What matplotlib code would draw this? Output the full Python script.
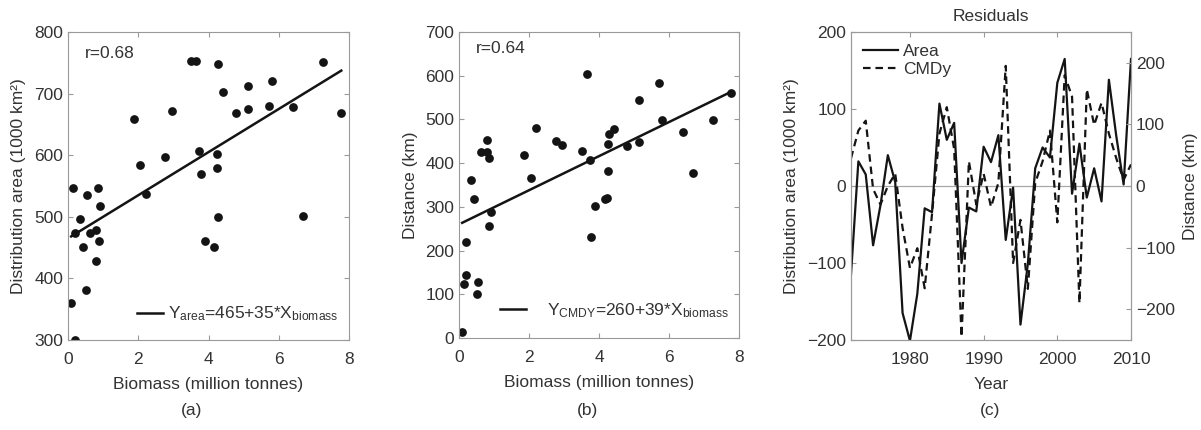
import matplotlib
matplotlib.use("Agg")
import matplotlib.pyplot as plt
import numpy as np

# Biomass (million tonnes), one value per year, sorted by biomass
biomass = [0.09, 0.14, 0.19, 0.21, 0.33, 0.44, 0.52, 0.55, 0.63, 0.79,
           0.81, 0.86, 0.87, 0.91, 1.87, 2.05, 2.21, 2.77, 2.95, 3.50,
           3.65, 3.74, 3.78, 3.89, 4.17, 4.24, 4.25, 4.27, 4.28, 4.42,
           4.79, 5.13, 5.13, 5.71, 5.81, 6.40, 6.69, 7.27, 7.78]
# Distribution area (1000 km2)
area = [360, 547, 473, 300, 496, 451, 381, 535, 473, 478,
        429, 547, 460, 517, 658, 584, 537, 597, 671, 753,
        753, 607, 570, 461, 451, 602, 580, 500, 748, 703,
        669, 713, 675, 680, 720, 679, 502, 752, 669]
# Distance (km)
distance = [13, 124, 220, 144, 362, 319, 101, 128, 425, 425,
            454, 256, 411, 289, 418, 365, 481, 451, 441, 428,
            603, 408, 230, 302, 319, 320, 444, 381, 467, 478,
            440, 544, 449, 584, 498, 471, 378, 498, 561]

# Regression fits (intercept, slope)
fit_area = (465, 35)
fit_dist = (260, 39)
r_area = "r=0.68"
r_dist = "r=0.64"

# Residual time series
years = list(range(1972, 2011))
area_resid = [-115, 32, 15, -77, -25, 40, 5, -165, -201, -140,
              -29, -34, 107, 60, 82, -100, -28, -33, 51, 31,
              66, -70, -2, -180, -101, 23, 50, 37, 134, 165,
              -10, 55, -15, 23, -20, 138, 65, 2, 165]
cmdy_resid = [45, 90, 106, -5, -30, 0, 20, -68, -133, -101,
              -166, -45, 85, 128, 60, -245, 40, -30, 20, -34,
              5, 195, -125, -55, -167, 5, 40, 90, -59, 180,
              145, -190, 157, 99, 135, 85, 45, 10, 35]

TXT = "#333333"
SPINE = "#9a9a9a"
INK = "#141414"

plt.rcParams.update({
    "font.family": ["Liberation Sans", "DejaVu Sans"],
    "font.size": 12.5,
    "mathtext.fontset": "custom",
    "mathtext.rm": "Liberation Sans",
    "mathtext.it": "Liberation Sans",
    "xtick.direction": "in",
    "ytick.direction": "in",
    "xtick.color": SPINE,
    "ytick.color": SPINE,
    "xtick.labelcolor": TXT,
    "ytick.labelcolor": TXT,
    "xtick.major.size": 3.5,
    "ytick.major.size": 3.5,
    "xtick.major.pad": 8.5,
    "ytick.major.pad": 3.5,
    "axes.edgecolor": SPINE,
    "axes.linewidth": 0.8,
    "axes.labelcolor": TXT,
    "axes.labelpad": 5.5,
    "text.color": TXT,
})

W, H = 1201, 430
fig = plt.figure(figsize=(W / 100, H / 100), dpi=100)


def box(left, right, top, bottom):
    return fig.add_axes([left / W, 1 - bottom / H, (right - left) / W, (bottom - top) / H])


def style(ax):
    ax.tick_params(top=True, right=True)


x = np.array(biomass)
xline = np.array([x.min(), x.max()])

# (a) distribution area vs biomass
ax1 = box(68, 349, 32, 340)
ax1.plot(biomass, area, "o", color=INK, ms=6.3, mec="none")
ax1.plot(xline, fit_area[0] + fit_area[1] * xline, color=INK, lw=1.8,
         label=r"Y$_{\mathregular{area}}$=465+35*X$_{\mathregular{biomass}}$")
ax1.set_xlim(0, 8)
ax1.set_ylim(300, 800)
ax1.set_xticks([0, 2, 4, 6, 8])
ax1.set_yticks([300, 400, 500, 600, 700, 800])
ax1.set_xlabel("Biomass (million tonnes)", labelpad=7.5)
ax1.set_ylabel("Distribution area (1000 km²)")
ax1.text(0.06, 0.955, r_area, transform=ax1.transAxes, va="top", ha="left")
ax1.legend(loc="lower right", frameon=False, handlelength=1.5, handletextpad=0.3,
           borderaxespad=0.2, bbox_to_anchor=(1.0, 0.02))
style(ax1)

# (b) distance vs biomass
ax2 = box(459, 739, 32, 338)
ax2.plot(biomass, distance, "o", color=INK, ms=6.3, mec="none")
ax2.plot(xline, fit_dist[0] + fit_dist[1] * xline, color=INK, lw=1.8,
         label=r"Y$_{\mathregular{CMDY}}$=260+39*X$_{\mathregular{biomass}}$")
ax2.set_xlim(0, 8)
ax2.set_ylim(0, 700)
ax2.set_xticks([0, 2, 4, 6, 8])
ax2.set_yticks(range(0, 701, 100))
ax2.set_xlabel("Biomass (million tonnes)", labelpad=7.5)
ax2.set_ylabel("Distance (km)")
ax2.text(0.06, 0.97, r_dist, transform=ax2.transAxes, va="top", ha="left")
ax2.legend(loc="lower right", frameon=False, handlelength=1.5, handletextpad=1.2,
           borderaxespad=0.2, bbox_to_anchor=(1.0, 0.025))
style(ax2)

# (c) residual time series
ax3 = box(851, 1131, 32, 340)
ax3.axhline(0, color="#a8a8a8", lw=0.9, zorder=1)
la, = ax3.plot(years, area_resid, "-", color=INK, lw=1.6, label="Area")
ax3.set_xlim(1972, 2010)
ax3.set_ylim(-200, 200)
ax3.set_xticks([1980, 1990, 2000, 2010])
ax3.set_yticks([-200, -100, 0, 100, 200])
ax3.set_xlabel("Year", labelpad=7.5)
ax3.set_ylabel("Distribution area (1000 km²)")
ax3.set_title("Residuals", fontsize=12.5, pad=8)
ax3.tick_params(top=True, right=False)

ax4 = ax3.twinx()
lc, = ax4.plot(years, cmdy_resid, "--", color=INK, lw=1.6, dashes=(3.4, 2.2), label="CMDy")
ax4.set_ylim(-250, 250)
ax4.set_yticks([-200, -100, 0, 100, 200])
ax4.set_ylabel("Distance (km)")
ax4.tick_params(direction="in")
ax4.legend([la, lc], ["Area", "CMDy"], loc="upper left", frameon=False,
           handlelength=2.0, handletextpad=0.3, borderaxespad=0.3, labelspacing=0.15)

for lab, xc in (("(a)", 192), ("(b)", 587), ("(c)", 990)):
    fig.text(xc / W, 1 - 410 / H, lab, ha="center", va="center", fontsize=12.5)

fig.savefig("out.png", dpi=100)
